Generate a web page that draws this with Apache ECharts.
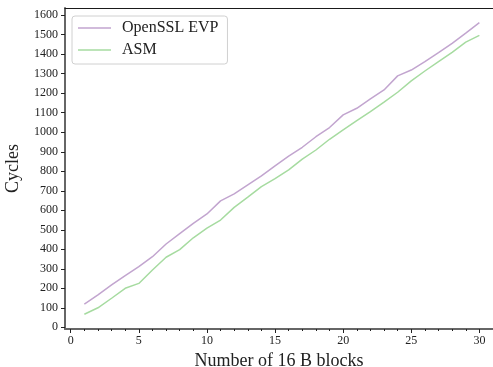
<!DOCTYPE html>
<html>
<head>
<meta charset="utf-8">
<script src="https://cdn.jsdelivr.net/npm/echarts@6/dist/echarts.min.js"></script>
<style>html,body{margin:0;padding:0;background:#fff}#c{width:493px;height:367px}</style>
</head>
<body>
<div id="c"></div>
<script>
const blocks = [1,2,3,4,5,6,7,8,9,10,11,12,13,14,15,16,17,18,19,20,21,22,23,24,25,26,27,28,29,30];
const evp = [119,166,217,265,311,362,427,480,533,581,648,684,730,776,828,878,923,977,1024,1089,1123,1171,1217,1289,1319,1362,1408,1456,1508,1562];
const asm = [67,100,149,200,225,294,359,398,459,508,550,615,667,721,762,807,862,909,964,1012,1060,1106,1154,1205,1263,1314,1362,1410,1462,1497];
const xMajor = [0,5,10,15,20,25,30];
const xMinor = [1,2,3,4,6,7,8,9,11,12,13,14,16,17,18,19,21,22,23,24,26,27,28,29,31];
const yTicks = [0,100,200,300,400,500,600,700,800,900,1000,1100,1200,1300,1400,1500,1600];

const FONT = 'Liberation Serif';
const XMIN = -0.42, XMAX = 31.0, YMIN = -8.7, YMAX = 1637;
const chart = echarts.init(document.getElementById('c'), null, {renderer: 'canvas'});
chart.setOption({
  animation: false,
  backgroundColor: '#fff',
  grid: {left: 65, top: 8, right: 0, bottom: 38, containLabel: false, outerBoundsMode: 'none'},
  legend: {
    left: 72, top: 16, orient: 'vertical',
    data: ['OpenSSL EVP', 'ASM'],
    icon: 'rect', itemWidth: 33, itemHeight: 1.6, itemGap: 6,
    padding: [4, 9, 6, 6],
    borderColor: '#d0d0d0', borderWidth: 1, borderRadius: 3,
    backgroundColor: '#fff',
    textStyle: {fontFamily: FONT, fontSize: 16, color: '#222', lineHeight: 16, padding: [0, 0, 0, 6]}
  },
  xAxis: [
    {
      type: 'value', min: XMIN, max: XMAX, position: 'bottom',
      name: 'Number of 16 B blocks', nameLocation: 'middle', nameGap: 16,
      nameTextStyle: {fontFamily: FONT, fontSize: 18, color: '#222'},
      axisLine: {show: true, onZero: false, lineStyle: {color: '#666', width: 2}},
      axisTick: {show: true, length: 4, customValues: xMajor, lineStyle: {color: '#222', width: 1}},
      axisLabel: {customValues: xMajor, margin: 6, fontFamily: FONT, fontSize: 12, color: '#222', formatter: v => String(v)},
      splitLine: {show: false}
    },
    {
      type: 'value', min: XMIN, max: XMAX, position: 'bottom',
      axisLine: {show: false, onZero: false},
      axisTick: {show: true, length: 2, customValues: xMinor, lineStyle: {color: '#222', width: 1}},
      axisLabel: {show: false},
      splitLine: {show: false}
    },
    {
      type: 'value', min: XMIN, max: XMAX, position: 'top',
      axisLine: {show: true, onZero: false, lineStyle: {color: '#1a1a1a', width: 1.2}},
      axisTick: {show: false}, axisLabel: {show: false}, splitLine: {show: false}
    }
  ],
  yAxis: {
    type: 'value', min: YMIN, max: YMAX,
    name: 'Cycles', nameLocation: 'middle', nameGap: 43,
    nameTextStyle: {fontFamily: FONT, fontSize: 18, color: '#222'},
    axisLine: {show: true, onZero: false, lineStyle: {color: '#666', width: 2}},
    axisTick: {show: true, length: 4, customValues: yTicks, lineStyle: {color: '#222', width: 1}},
    axisLabel: {customValues: yTicks, margin: 7, fontFamily: FONT, fontSize: 12, color: '#222', formatter: v => String(v)},
    splitLine: {show: false}
  },
  series: [
    {
      name: 'OpenSSL EVP', type: 'line', xAxisIndex: 0, symbol: 'none',
      data: blocks.map((b, i) => [b, evp[i]]),
      lineStyle: {color: '#c2a5cf', width: 1.5}, itemStyle: {color: '#c2a5cf'}
    },
    {
      name: 'ASM', type: 'line', xAxisIndex: 0, symbol: 'none',
      data: blocks.map((b, i) => [b, asm[i]]),
      lineStyle: {color: '#a6dba0', width: 1.5}, itemStyle: {color: '#a6dba0'}
    }
  ]
});
</script>
</body>
</html>
